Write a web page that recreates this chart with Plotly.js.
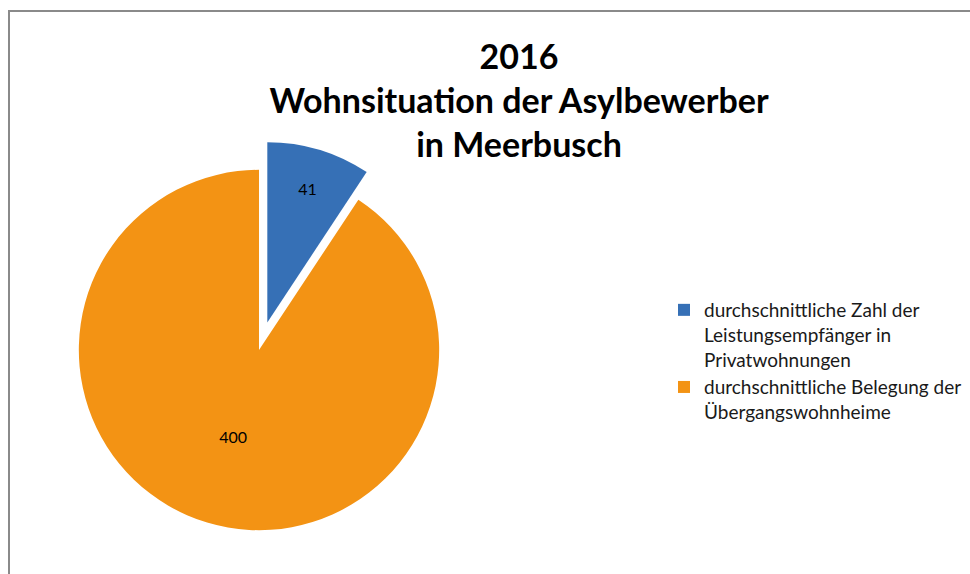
<!DOCTYPE html>
<html>
<head>
<meta charset="utf-8">
<script src="https://cdn.plot.ly/plotly-3.0.1.min.js"></script>
<style>
html,body{margin:0;padding:0;background:#fff;}
#chart{width:970px;height:574px;}
</style>
</head>
<body>
<div id="chart"></div>
<script>
const categories = [
  "durchschnittliche Zahl der<br>Leistungsempfänger in<br>Privatwohnungen",
  "durchschnittliche Belegung der<br>Übergangswohnheime"
];
const values = [41, 400];
const sliceColors = ["#3670B6", "#F39314"];
const pulls = [0.16, 0];

const W = 970, H = 574;

const trace = {
  type: "pie",
  labels: categories,
  values: values,
  pull: pulls,
  sort: false,
  direction: "clockwise",
  rotation: 0,
  marker: {colors: sliceColors, line: {width: 0}},
  textinfo: "value",
  textposition: "inside",
  insidetextorientation: "horizontal",
  textfont: {family: "Lato, sans-serif", size: 16, color: "#000"},
  hoverinfo: "label+value",
  domain: {x: [50/W, 468/W], y: [1 - 559/H, 1 - 141/H]}
};

const layout = {
  width: W, height: H,
  margin: {l: 0, r: 0, t: 0, b: 0},
  paper_bgcolor: "#fff",
  showlegend: true,
  title: {
    text: "<b>2016<br>Wohnsituation der Asylbewerber<br>in Meerbusch</b>",
    font: {family: "Lato, sans-serif", size: 34, color: "#000"},
    x: 519/W, xanchor: "center",
    y: 1 - 69/H, yanchor: "middle", yref: "container"
  },
  legend: {
    x: 664/W, xanchor: "left",
    y: 1 - 291/H, yanchor: "top",
    valign: "top",
    font: {family: "Lato, sans-serif", size: 19, color: "#1a1a1a"},
    bgcolor: "rgba(0,0,0,0)",
    itemclick: false
  },
  shapes: [{
    type: "rect", xref: "paper", yref: "paper",
    x0: 9/W, x1: 1.02, y0: -0.02, y1: 1 - 11/H,
    line: {color: "#8a8a8a", width: 2}, fillcolor: "rgba(0,0,0,0)", layer: "below"
  }]
};

Plotly.newPlot("chart", [trace], layout, {displayModeBar: false, staticPlot: true});
</script>
</body>
</html>
